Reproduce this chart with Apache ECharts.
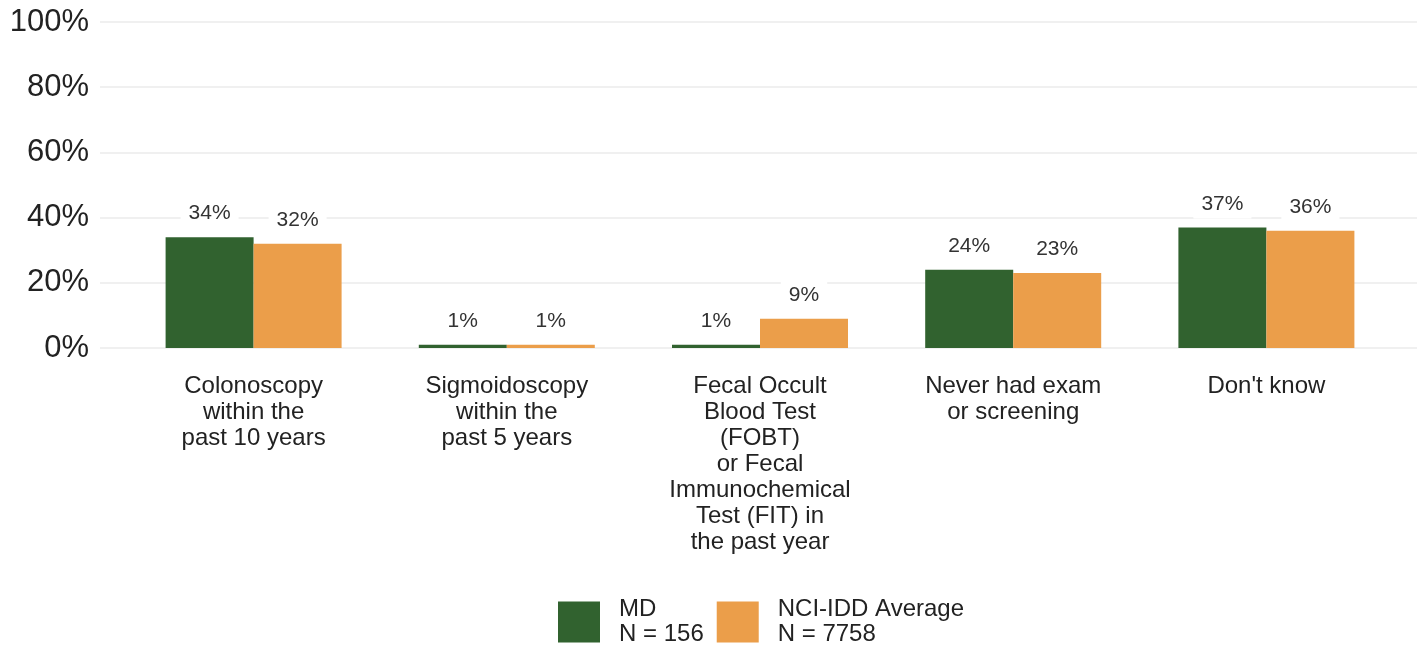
<!DOCTYPE html>
<html>
<head>
<meta charset="utf-8">
<title>Colorectal cancer screening</title>
<script src="https://cdn.jsdelivr.net/npm/echarts@6/dist/echarts.min.js"></script>
<style>
  html, body { margin: 0; padding: 0; background: #ffffff; }
  #chart { width: 1427px; height: 647px; }
</style>
</head>
<body>
<div id="chart"></div>
<script>
// Screening categories (line breaks as shown under the axis)
const categories = [
  'Colonoscopy\nwithin the\npast 10 years',
  'Sigmoidoscopy\nwithin the\npast 5 years',
  'Fecal Occult\nBlood Test\n(FOBT)\nor Fecal\nImmunochemical\nTest (FIT) in\nthe past year',
  'Never had exam\nor screening',
  "Don't know"
];

// Percent of respondents
const mdValues = [34, 1, 1, 24, 37];
const nciValues = [32, 1, 9, 23, 36];

// Series names shown in the legend
const mdName = 'MD\nN = 156';
const nciName = 'NCI-IDD Average\nN = 7758';

// Y axis ticks
const yTicks = [0, 20, 40, 60, 80, 100];

const GREEN = '#31622f';
const ORANGE = '#eb9e4a';
const FONT = '"Liberation Sans", Arial, sans-serif';

const chart = echarts.init(document.getElementById('chart'), null, { renderer: 'canvas' });

const barLabel = {
  show: true,
  position: 'top',
  distance: 9,
  formatter: '{c}%',
  fontFamily: FONT,
  fontSize: 21,
  color: '#333333',
  backgroundColor: '#ffffff',
  padding: [4, 8]
};

chart.setOption({
  animation: false,
  textStyle: { fontFamily: FONT },
  legend: {
    left: 558,
    top: 597,
    padding: 0,
    itemWidth: 42,
    itemHeight: 41,
    itemGap: 13,
    icon: 'rect',
    selectedMode: false,
    data: [mdName, nciName],
    textStyle: {
      fontFamily: FONT,
      fontSize: 24,
      lineHeight: 25,
      color: '#222222',
      padding: [0, 0, 0, 14]
    }
  },
  grid: [
    // full-width panel carrying the y labels and horizontal gridlines
    { left: 100, right: 10, top: 22, bottom: 299, containLabel: false },
    // panel carrying the bars
    { left: 127, right: 34, top: 22, bottom: 299, containLabel: false }
  ],
  xAxis: [
    {
      gridIndex: 0, type: 'value', min: 0, max: 1,
      show: false
    },
    {
      gridIndex: 1, type: 'category', data: categories,
      axisLine: { show: false },
      axisTick: { show: false },
      axisLabel: {
        interval: 0,
        margin: 25,
        fontFamily: FONT,
        fontSize: 24,
        lineHeight: 26,
        color: '#222222',
        align: 'center'
      }
    }
  ],
  yAxis: [
    {
      gridIndex: 0, type: 'value', min: yTicks[0], max: yTicks[yTicks.length - 1], interval: 20,
      axisLine: { show: false },
      axisTick: { show: false },
      axisLabel: {
        margin: 11,
        fontFamily: FONT,
        fontSize: 31,
        color: '#222222',
        formatter: v => v + '%',
        padding: [3, 0, 0, 0]
      },
      splitLine: { show: true, lineStyle: { color: '#ebebeb', width: 1.5 } }
    },
    {
      gridIndex: 1, type: 'value', min: 0, max: 100, interval: 20,
      show: false,
      splitLine: { show: false }
    }
  ],
  series: [
    {
      name: mdName,
      type: 'bar',
      xAxisIndex: 1, yAxisIndex: 1,
      data: mdValues,
      barWidth: 88,
      barGap: '0%',
      itemStyle: { color: GREEN },
      label: barLabel
    },
    {
      name: nciName,
      type: 'bar',
      xAxisIndex: 1, yAxisIndex: 1,
      data: nciValues,
      barWidth: 88,
      barGap: '0%',
      itemStyle: { color: ORANGE },
      label: barLabel
    }
  ]
});
</script>
</body>
</html>
